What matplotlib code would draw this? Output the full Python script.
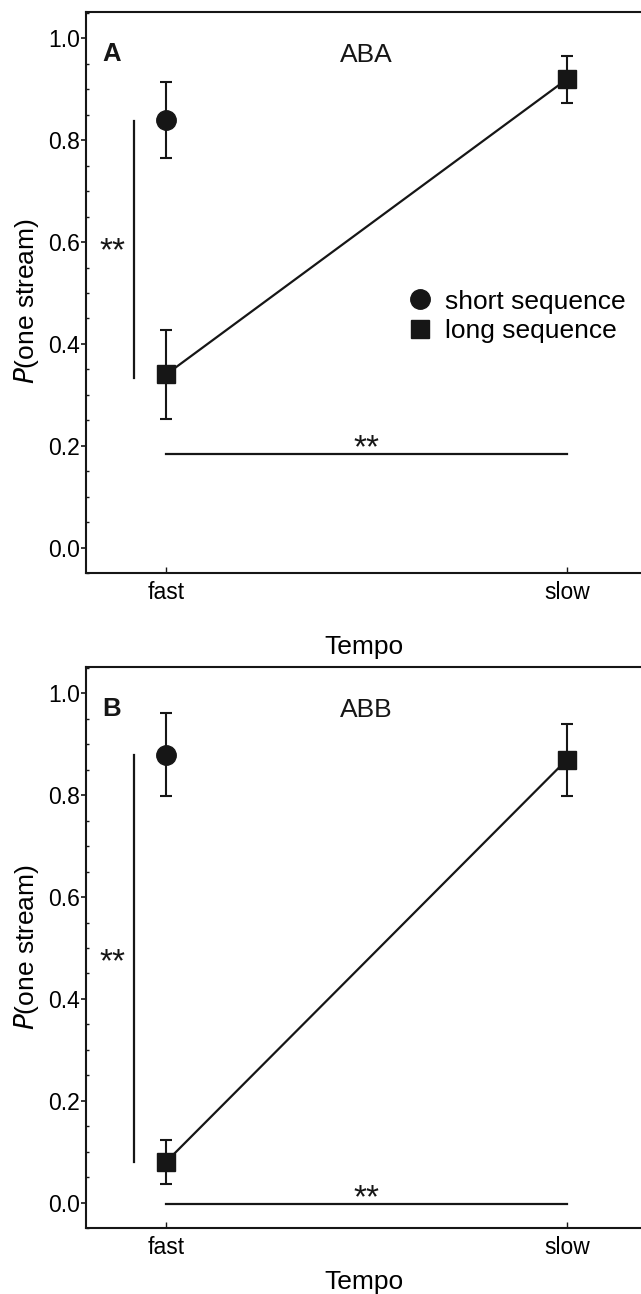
import numpy as np
import matplotlib.pyplot as plt
from matplotlib.lines import Line2D
from matplotlib.ticker import MultipleLocator, FormatStrFormatter

plt.rcParams['font.family'] = ['Liberation Sans', 'DejaVu Sans']

# data
tempo = ['fast', 'slow']
tempo_pos = [0, 1]

aba_short = [0.84]          # short sequence, fast only
aba_short_err = [0.074]
aba_long = [0.34, 0.92]     # long sequence, fast / slow
aba_long_err = [0.088, 0.046]

abb_short = [0.88]
abb_short_err = [0.082]
abb_long = [0.08, 0.87]
abb_long_err = [0.043, 0.071]

# significance bars: vertical span (fast), horizontal level, star positions
aba_vsig = [0.333, 0.838]
aba_hsig = 0.184
aba_vstar = 0.571
abb_vsig = [0.079, 0.88]
abb_hsig = -0.003
abb_vstar = 0.462

ink = '#161616'
fs_text = 19
fs_tick = 16.5


def draw_panel(ax, short, short_err, long_, long_err, vsig, hsig, vstar, letter, title, labelpad):
    ax.errorbar(tempo_pos[:1], short, yerr=short_err, fmt='o', ms=14, color=ink,
                ecolor=ink, elinewidth=1.5, capsize=4, capthick=1.5, zorder=3)
    ax.errorbar(tempo_pos, long_, yerr=long_err, fmt='s-', ms=13, lw=1.6, color=ink,
                ecolor=ink, elinewidth=1.5, capsize=4, capthick=1.5, zorder=3)

    # significance markers
    ax.plot([-0.08, -0.08], vsig, color=ink, lw=1.6)
    ax.annotate('**', (-0.135, vstar), xytext=(0, -2.5), textcoords='offset points',
                fontsize=24, ha='center', va='baseline', color=ink)
    ax.plot(tempo_pos, [hsig, hsig], color=ink, lw=1.6)
    ax.annotate('**', (0.5, hsig), xytext=(0, -2.5), textcoords='offset points',
                fontsize=24, ha='center', va='baseline', color=ink)

    ax.text(-0.135, 0.97, letter, fontsize=18.5, fontweight='bold', ha='center', va='center', color=ink)
    ax.text(0.5, 0.967, title, fontsize=fs_text, ha='center', va='center', color=ink)

    ax.set_xlim(-0.2, 1.185)
    ax.set_ylim(-0.05, 1.052)
    ax.set_xticks(tempo_pos)
    ax.set_xticklabels(tempo)
    ax.yaxis.set_major_locator(MultipleLocator(0.2))
    ax.yaxis.set_minor_locator(MultipleLocator(0.05))
    ax.yaxis.set_major_formatter(FormatStrFormatter('%.1f'))

    ax.tick_params(axis='y', which='major', direction='out', length=3.5, width=1.2,
                   labelsize=fs_tick, pad=1, color=ink)
    ax.tick_params(axis='y', which='minor', direction='in', length=2, width=1, color=ink)
    ax.tick_params(axis='x', which='major', direction='in', length=4, width=1,
                   labelsize=fs_tick, pad=6, color=ink)

    for side in ['top', 'left', 'bottom']:
        ax.spines[side].set_linewidth(1.5)
        ax.spines[side].set_color(ink)
    ax.spines['right'].set_visible(False)

    ax.set_xlabel('Tempo', fontsize=fs_text, labelpad=labelpad)
    ax.set_ylabel(r'$\it{P}$(one stream)', fontsize=fs_text)


fig = plt.figure(figsize=(6.41, 12.94), dpi=100)
ax_a = fig.add_axes([86 / 641, 1 - 573 / 1294, 555 / 641, 561 / 1294])
ax_b = fig.add_axes([86 / 641, 1 - 1228 / 1294, 555 / 641, 561 / 1294])

draw_panel(ax_a, aba_short, aba_short_err, aba_long, aba_long_err,
           aba_vsig, aba_hsig, aba_vstar, 'A', 'ABA', 22)
draw_panel(ax_b, abb_short, abb_short_err, abb_long, abb_long_err,
           abb_vsig, abb_hsig, abb_vstar, 'B', 'ABB', 8)

ax_a.yaxis.set_label_coords(-0.081, 0.484)
ax_b.yaxis.set_label_coords(-0.081, 0.5)

handles = [Line2D([], [], marker='o', ls='none', ms=14, color=ink),
           Line2D([], [], marker='s', ls='none', ms=13, color=ink)]
ax_a.legend(handles, ['short sequence', 'long sequence'], loc='upper left',
            bbox_to_anchor=(0.578, 0.505), frameon=False, fontsize=fs_text,
            handlelength=1.0, handletextpad=0.45, labelspacing=0.2,
            borderpad=0, borderaxespad=0)

fig.savefig('out.png', dpi=100)
